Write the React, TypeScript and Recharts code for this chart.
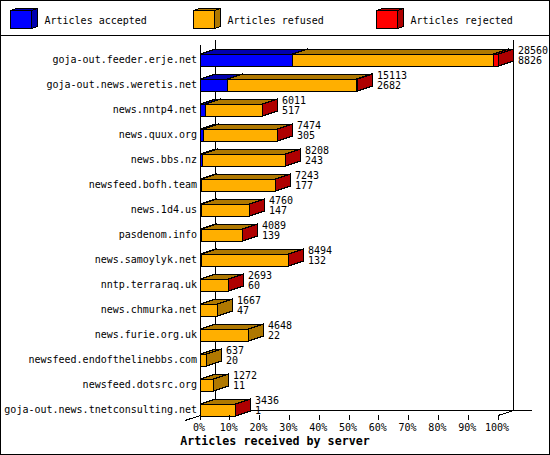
import React from "react";
import { BarChart, Bar, XAxis, YAxis, LabelList } from "recharts";

const servers = [
  "goja-out.feeder.erje.net",
  "goja-out.news.weretis.net",
  "news.nntp4.net",
  "news.quux.org",
  "news.bbs.nz",
  "newsfeed.bofh.team",
  "news.1d4.us",
  "pasdenom.info",
  "news.samoylyk.net",
  "nntp.terraraq.uk",
  "news.chmurka.net",
  "news.furie.org.uk",
  "newsfeed.endofthelinebbs.com",
  "newsfeed.dotsrc.org",
  "goja-out.news.tnetconsulting.net",
];
const offered = [28560, 15113, 6011, 7474, 8208, 7243, 4760, 4089, 8494, 2693, 1667, 4648, 637, 1272, 3436];
const accepted = [8826, 2682, 517, 305, 243, 177, 147, 139, 132, 60, 47, 22, 20, 11, 1];
const refused = [19264, 12361, 5474, 7154, 7950, 7051, 4603, 3940, 8347, 2628, 1620, 4626, 617, 1261, 3425];
const rejected = [470, 70, 20, 15, 15, 15, 10, 10, 15, 5, 0, 0, 0, 0, 10];
const percentTicks = [0, 10, 20, 30, 40, 50, 60, 70, 80, 90, 100];

const largest = Math.max(...offered);
const rows = servers.map((name, i) => ({
  name,
  offered: offered[i],
  accepted: (accepted[i] / largest) * 100,
  refused: (refused[i] / largest) * 100,
  rejected: (rejected[i] / largest) * 100,
}));

const FONT = "'DejaVu Sans Mono', monospace";
const DEPTH_X = 15;
const DEPTH_Y = 5;

const legendItems = [
  { label: "Articles accepted", front: "#0000ff", side: "#0000af", x: 10 },
  { label: "Articles refused", front: "#ffaf00", side: "#af7800", x: 193 },
  { label: "Articles rejected", front: "#ff0000", side: "#af0000", x: 376 },
];

// front, top and side faces of one stacked segment
function box3d(front: string, dark: string) {
  return (props: any) => {
    const { x, y, width, height } = props;
    if (!(width > 0)) return <g />;
    const l = Math.floor(x) + 0.5;
    const r = Math.floor(x + width) + 0.5;
    const t = Math.round(y);
    const b = t + height;
    return (
      <g stroke="#000" strokeWidth={1} shapeRendering="crispEdges">
        <polygon
          points={`${l},${t} ${l + DEPTH_X},${t - DEPTH_Y} ${r + DEPTH_X},${t - DEPTH_Y} ${r},${t}`}
          fill={dark}
        />
        <polygon
          points={`${r},${t} ${r + DEPTH_X},${t - DEPTH_Y} ${r + DEPTH_X},${b - DEPTH_Y} ${r},${b}`}
          fill={dark}
        />
        <rect x={l} y={t} width={r - l} height={b - t} fill={front} />
      </g>
    );
  };
}

function TotalsLabel(props: any) {
  const { x, y, width, index } = props;
  const left = Math.floor(x + width) + DEPTH_X + 5;
  return (
    <g fontFamily={FONT} fontSize={10} fill="#000">
      <text x={left} y={y}>
        {offered[index]}
      </text>
      <text x={left} y={y + 10.5}>
        {accepted[index]}
      </text>
    </g>
  );
}

function PercentTick(props: any) {
  const { x, payload } = props;
  return (
    <g>
      <line x1={x} x2={x} y1={415} y2={420} stroke="#000" shapeRendering="crispEdges" />
      <text x={x - 1} y={431} textAnchor="middle" fontFamily={FONT} fontSize={10} fill="#000">
        {payload.value}%
      </text>
    </g>
  );
}

export default function App() {
  return (
    <div style={{ position: "absolute", left: 0, top: 0, width: 550, height: 455, background: "#fff" }}>
      <BarChart
        width={550}
        height={455}
        data={rows}
        layout="vertical"
        barSize={12}
        margin={{ top: 46.5, right: 52, bottom: 0, left: 0 }}
      >
        <rect x={0.5} y={0.5} width={549} height={454} fill="#fff" stroke="#000" shapeRendering="crispEdges" />
        <line x1={0} x2={550} y1={35.5} y2={35.5} stroke="#000" shapeRendering="crispEdges" />
        {legendItems.map((item) => (
          <g key={item.label} stroke="#000" shapeRendering="crispEdges">
            <polygon
              points={`${item.x + 0.5},${10.5} ${item.x + 6.5},${8.5} ${item.x + 27.5},${8.5} ${item.x + 21.5},${10.5}`}
              fill={item.side}
            />
            <polygon
              points={`${item.x + 21.5},${10.5} ${item.x + 27.5},${8.5} ${item.x + 27.5},${26.5} ${item.x + 21.5},${28.5}`}
              fill={item.side}
            />
            <rect x={item.x + 0.5} y={10.5} width={21} height={18} fill={item.front} />
            <text x={item.x + 34.5} y={23.5} fontFamily={FONT} fontSize={10} fill="#000" stroke="none">
              {item.label}
            </text>
          </g>
        ))}
        <g stroke="#000" shapeRendering="crispEdges" fill="none">
          <line x1={200.5} x2={200.5} y1={45} y2={420} />
          <line x1={215.5} x2={215.5} y1={40} y2={410} />
          <line x1={513.5} x2={513.5} y1={40} y2={410} />
          <line x1={215.5} x2={532} y1={410.5} y2={410.5} />
          <line x1={185} x2={215.5} y1={420.5} y2={410.5} />
          <line x1={498} x2={513.5} y1={415.5} y2={410.5} />
        </g>
        <XAxis
          type="number"
          domain={[0, 100]}
          ticks={percentTicks}
          height={33.5}
          axisLine={false}
          tickLine={false}
          interval={0}
          tick={<PercentTick />}
        />
        <YAxis
          type="category"
          dataKey="name"
          width={200}
          interval={0}
          axisLine={false}
          tickLine={false}
          tickSize={0}
          tickMargin={3}
          tick={{ fontFamily: FONT, fontSize: 10, fill: "#000" }}
        />
        <Bar dataKey="accepted" stackId="a" fill="#0000ff" isAnimationActive={false} shape={box3d("#0000ff", "#0000af")} />
        <Bar dataKey="refused" stackId="a" fill="#ffaf00" isAnimationActive={false} shape={box3d("#ffaf00", "#af7800")} />
        <Bar dataKey="rejected" stackId="a" fill="#ff0000" isAnimationActive={false} shape={box3d("#ff0000", "#af0000")}>
          <LabelList content={<TotalsLabel />} />
        </Bar>
        <text x={275} y={445} textAnchor="middle" fontFamily={FONT} fontSize={11.67} fontWeight="bold" fill="#000">
          Articles received by server
        </text>
      </BarChart>
    </div>
  );
}
